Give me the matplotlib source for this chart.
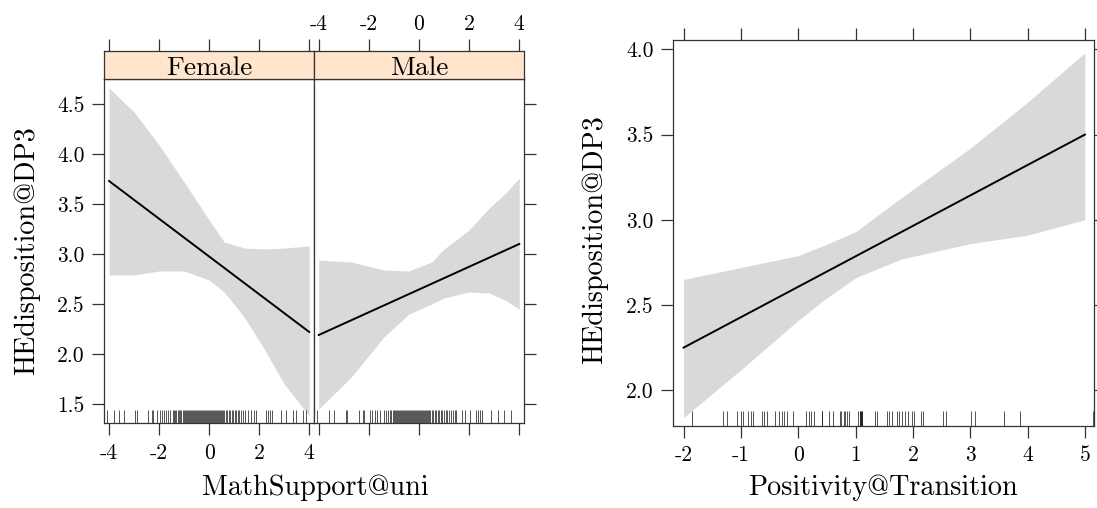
import numpy as np
import matplotlib
matplotlib.use("Agg")
import matplotlib.pyplot as plt
import matplotlib.transforms as mtransforms

plt.rcParams['font.family'] = ['cmr10', 'DejaVu Serif']
plt.rcParams['mathtext.fontset'] = 'cm'

# ---- data ----
panels = ["Female", "Male"]

fem_x = [-4, -3, -2, -1, 0, 0.6, 1.4, 2.2, 3.0, 4]
fem_upper = [4.66, 4.42, 4.09, 3.72, 3.34, 3.12, 3.06, 3.05, 3.06, 3.08]
fem_lower = [2.79, 2.79, 2.83, 2.83, 2.74, 2.62, 2.37, 2.05, 1.70, 1.38]
fem_fit_x = [-4, 4]
fem_fit_y = [3.73, 2.22]

male_x = [-4, -2.7, -1.4, -0.4, 0.5, 1.0, 2.0, 2.8, 3.5, 4]
male_upper = [2.94, 2.92, 2.84, 2.83, 2.92, 3.05, 3.24, 3.46, 3.62, 3.76]
male_lower = [1.45, 1.77, 2.17, 2.40, 2.50, 2.56, 2.62, 2.61, 2.53, 2.45]
male_fit_x = [-4, 4]
male_fit_y = [2.19, 3.10]

pos_x = [-2, -1, 0, 0.45, 1, 1.8, 3, 4, 5]
pos_upper = [2.65, 2.72, 2.79, 2.85, 2.93, 3.13, 3.42, 3.69, 3.98]
pos_lower = [1.84, 2.12, 2.41, 2.53, 2.66, 2.77, 2.86, 2.91, 3.00]
pos_fit_x = [-2, 5]
pos_fit_y = [2.25, 3.50]

fem_rug = [-4.07, -3.80, -3.60, -3.40, -2.97, -2.90, -2.43, -2.30, -2.23,
           -2.07, -1.97, -1.90, -1.81, -1.73, -1.64, -1.57,
           -1.45, -1.41, -1.35, -1.31, -1.26, -1.19, -1.15, -1.11, -1.04, -1.01,
           -0.96, -0.91, -0.88, -0.83, -0.80, -0.75, -0.71, -0.68, -0.63, -0.60,
           -0.55, -0.51, -0.48, -0.43, -0.40, -0.35, -0.32, -0.27, -0.24, -0.19,
           -0.16, -0.12, -0.07, -0.04, 0.0, 0.05, 0.08, 0.13, 0.16, 0.21, 0.24,
           0.28, 0.33, 0.36, 0.41, 0.44, 0.49, 0.52, 0.57, 0.61, 0.66, 0.73,
           0.79, 0.84, 0.91, 0.96, 1.03, 1.08, 1.15, 1.21, 1.29, 1.36, 1.44,
           1.56, 1.69, 1.78, 1.89, 2.29, 2.35, 2.45, 2.53,
           2.89, 3.09, 3.35, 3.48, 3.75, 3.88]

male_rug = [-4.06, -3.59, -3.40, -2.92, -2.86, -2.39, -2.25, -2.19,
            -1.94, -1.86, -1.76, -1.67, -1.56, -1.41, -1.33, -1.23, -1.17,
            -1.10, -1.05, -1.01, -0.96, -0.92, -0.88, -0.84, -0.79, -0.75, -0.72,
            -0.67, -0.64, -0.59, -0.56, -0.52, -0.47, -0.44, -0.40, -0.36, -0.31,
            -0.28, -0.24, -0.19, -0.16, -0.12, -0.08, -0.04, 0.01, 0.04, 0.09,
            0.12, 0.16, 0.21, 0.24, 0.28, 0.33, 0.37, 0.41, 0.45, 0.52, 0.57,
            0.63, 0.68, 0.75, 0.81, 0.86, 0.93, 0.99, 1.06, 1.12, 1.19, 1.27,
            1.34, 1.42, 1.49, 1.72, 1.82, 2.02, 2.28, 2.35, 2.44, 2.52,
            2.88, 3.14, 3.41, 3.67]

pos_rug = [-1.85, -1.31, -1.24, -1.07, -1.00, -0.96, -0.87, -0.83, -0.79,
           -0.63, -0.59, -0.54, -0.40, -0.34, -0.29, -0.25, -0.19, -0.10,
           0.14, 0.19, 0.23, 0.27, 0.41, 0.42, 0.53, 0.60, 0.72, 0.75, 0.79,
           0.82, 0.85, 0.88, 1.05, 1.07, 1.08, 1.09, 1.10, 1.11, 1.12,
           1.33, 1.38, 1.54, 1.58, 1.63, 1.72, 1.76, 1.81, 1.86, 1.92, 1.99,
           2.02, 2.14, 2.17, 2.52, 2.58, 3.01, 3.08, 3.59, 3.87, 5.14]

left_xticks = [-4, -2, 0, 2, 4]
left_yticks = [1.5, 2.0, 2.5, 3.0, 3.5, 4.0, 4.5]
right_xticks = [-2, -1, 0, 1, 2, 3, 4, 5]
right_yticks = [2.0, 2.5, 3.0, 3.5, 4.0]

band_col = '#d9d9d9'
strip_col = '#ffe5cc'
tick_fs = 15.5
lab_fs = 20.3
tl = 8.3

W, H = 1097, 508
fig = plt.figure(figsize=(W / 100, H / 100), dpi=100)


def frac(x0, y0, x1, y1):
    # pixel box (top-left origin) -> figure fraction rect
    return [x0 / W, 1 - y1 / H, (x1 - x0) / W, (y1 - y0) / H]


def draw_panel(ax, bx, bu, bl, fx, fy, rug, xlim, ylim):
    ax.fill_between(bx, bl, bu, color=band_col, lw=0)
    ax.plot(fx, fy, color='black', lw=1.4)
    trans = mtransforms.blended_transform_factory(ax.transData, ax.transAxes)
    ax.vlines(rug, 0, 0.038, transform=trans, color='#111111', lw=0.5)
    ax.set_xlim(*xlim)
    ax.set_ylim(*ylim)
    for sp in ax.spines.values():
        sp.set_linewidth(0.9)
        sp.set_color('#333333')
    ax.tick_params(direction='out', length=tl, width=0.9, color='#333333',
                   labelsize=tick_fs, pad=6)


xl = (-4.19, 4.19)
yl = (1.307, 4.747)

ax_f = fig.add_axes(frac(104.3, 79.3, 314, 423.3))
ax_m = fig.add_axes(frac(314, 79.3, 524, 423.3))
draw_panel(ax_f, fem_x, fem_upper, fem_lower, fem_fit_x, fem_fit_y, fem_rug, xl, yl)
draw_panel(ax_m, male_x, male_upper, male_lower, male_fit_x, male_fit_y, male_rug, xl, yl)

ax_f.set_xticks(left_xticks, ['%d' % v for v in left_xticks])
ax_f.set_yticks(left_yticks, ['%.1f' % v for v in left_yticks])
ax_f.tick_params(left=True, right=False, bottom=True, top=False)

ax_m.set_xticks(left_xticks, [])
ax_m.set_yticks(left_yticks, [])
ax_m.tick_params(left=False, right=True, labelleft=False, bottom=True, top=False)

# strips
for i, (name, x0, x1) in enumerate([(panels[0], 104.3, 314), (panels[1], 314, 524)]):
    st = fig.add_axes(frac(x0, 50.7, x1, 79.3))
    st.set_facecolor(strip_col)
    st.set_xlim(*xl)
    st.set_ylim(0, 1)
    st.text(0.5, 0.4, name, ha='center', va='center', fontsize=19.7, transform=st.transAxes)
    for sp in st.spines.values():
        sp.set_linewidth(0.9)
        sp.set_color('#333333')
    st.set_yticks([])
    st.xaxis.tick_top()
    st.tick_params(direction='out', length=tl, width=0.9, color='#333333',
                   labelsize=tick_fs, pad=4)
    if i == 1:
        st.set_xticks(left_xticks, ['%d' % v for v in left_xticks])
    else:
        st.set_xticks(left_xticks, [])

fig.text(315 / W, 1 - 488 / H, 'MathSupport@uni', ha='center', va='center', fontsize=lab_fs)
fig.text(27 / W, 1 - 251 / H, 'HEdisposition@DP3', ha='center', va='center',
         fontsize=lab_fs, rotation=90)

# right plot
ax_p = fig.add_axes(frac(673.3, 40, 1093.5, 426))
draw_panel(ax_p, pos_x, pos_upper, pos_lower, pos_fit_x, pos_fit_y, pos_rug,
           (-2.18, 5.15), (1.79, 4.055))
ax_p.set_xticks(right_xticks, ['%d' % v for v in right_xticks])
ax_p.set_yticks(right_yticks, ['%.1f' % v for v in right_yticks])
ax_p.tick_params(top=True, right=True, labeltop=False, labelright=False)

fig.text(883 / W, 1 - 488 / H, 'Positivity@Transition', ha='center', va='center', fontsize=lab_fs)
fig.text(595 / W, 1 - 240 / H, 'HEdisposition@DP3', ha='center', va='center',
         fontsize=lab_fs, rotation=90)

fig.savefig('out.png', dpi=100)
